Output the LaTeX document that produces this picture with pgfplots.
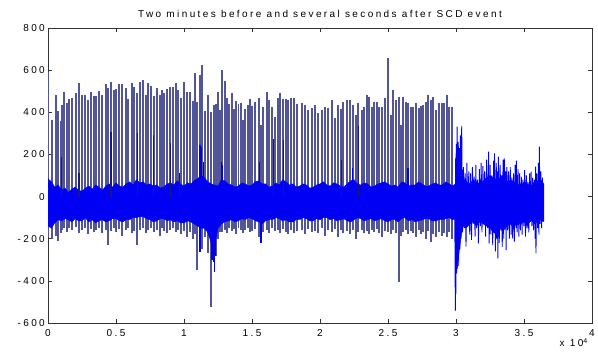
\documentclass[border=0pt]{standalone}
\usepackage{fontspec}
\setmainfont{Liberation Sans}[LetterSpace=24]
\usepackage{pgfplots}
\pgfplotsset{compat=1.18}
\definecolor{ecgblue}{RGB}{0,0,245}
\definecolor{spike}{RGB}{82,86,152}
\definecolor{navy}{RGB}{25,25,125}
\begin{document}
\begin{tikzpicture}[font=\fontsize{10bp}{12bp}\selectfont]
\useasboundingbox (-48bp,-37bp) rectangle (550bp,323bp);
\begin{axis}[
  at={(0,0)}, anchor=south west,
  scale only axis, width=544bp, height=295bp,
  xmin=0, xmax=40000, ymin=-600, ymax=800,
  xtick={0,5000,10000,15000,20000,25000,30000,35000,40000},
  xticklabels={0,0.5,1,1.5,2,2.5,3,3.5,4},
  ytick={-600,-400,-200,0,200,400,600,800},
  yticklabels={-600,-400,-200,0,200,400,600,800},
  scaled x ticks=false, scaled y ticks=false,
  tick align=inside, major tick length=4bp,
  axis line style={draw=black!80, line width=0.7pt},
  every tick/.style={black!80, line width=0.7pt},
  xticklabel style={inner sep=0pt, anchor=north, yshift=-6.5bp},
  yticklabel style={inner sep=0pt, anchor=east, xshift=-3bp},
  title={Two minutes before and several seconds after SCD event},
  title style={at={(0.5,1)}, anchor=base, yshift=4.5bp, inner sep=0pt},
  unbounded coords=jump,
]
% R peaks and S troughs of each beat: peak, trough, break
\addplot[spike, line width=1.9pt] table {
x y
20 590
20 -190
20 nan
319 365
319 -200
319 nan
564 480
564 -185
564 nan
760 405
760 -210
760 nan
932 358
932 -175
932 nan
1030 435
1030 -160
1030 nan
1201 495
1201 -150
1201 nan
1373 445
1373 -170
1373 nan
1569 462
1569 -150
1569 nan
1765 468
1765 -160
1765 nan
2035 490
2035 -145
2035 nan
2255 537
2255 -175
2255 nan
2476 480
2476 -160
2476 nan
2721 480
2721 -150
2721 nan
2917 460
2917 -180
2917 nan
3138 495
3138 -155
3138 nan
3383 475
3383 -170
3383 nan
3554 476
3554 -160
3554 nan
3775 500
3775 -150
3775 nan
3971 480
3971 -175
3971 nan
4241 535
4241 -160
4241 nan
4412 515
4412 -230
4412 nan
4608 545
4608 -165
4608 nan
4829 505
4829 -150
4829 nan
5000 510
5000 -170
5000 nan
5221 533
5221 -155
5221 nan
5442 533
5442 -185
5442 nan
5711 513
5711 -160
5711 nan
5907 462
5907 -150
5907 nan
6152 540
6152 -175
6152 nan
6324 520
6324 -165
6324 nan
6520 492
6520 -230
6520 nan
6765 545
6765 -160
6765 nan
6961 552
6961 -150
6961 nan
7182 483
7182 -175
7182 nan
7378 537
7378 -160
7378 nan
7574 525
7574 -150
7574 nan
7795 475
7795 -170
7795 nan
7991 513
7991 -160
7991 nan
8211 483
8211 -185
8211 nan
8383 505
8383 -150
8383 nan
8554 490
8554 -165
8554 nan
8775 512
8775 -175
8775 nan
8971 520
8971 -160
8971 nan
9192 518
9192 -150
9192 nan
9388 540
9388 -170
9388 nan
9559 505
9559 -160
9559 nan
9804 467
9804 -180
9804 nan
9976 545
9976 -165
9976 nan
10221 495
10221 -190
10221 nan
10442 495
10442 -170
10442 nan
10638 455
10638 -200
10638 nan
10809 585
10809 -180
10809 nan
10980 448
10980 -348
10980 nan
11202 575
11202 -210
11202 nan
11350 625
11350 -250
11350 nan
11569 405
11569 -190
11569 nan
11790 482
11790 -268
11790 nan
11986 400
11986 -523
11986 nan
12182 435
12182 -240
12182 nan
12353 437
12353 -280
12353 nan
12500 497
12500 -200
12500 nan
12640 410
12640 -170
12640 nan
12820 600
12820 -170
12820 nan
12990 550
12990 -160
12990 nan
13160 470
13160 -175
13160 nan
13320 440
13320 -150
13320 nan
13505 490
13505 -165
13505 nan
13680 415
13680 -155
13680 nan
13850 455
13850 -180
13850 nan
14010 440
14010 -150
14010 nan
14180 443
14180 -160
14180 nan
14330 365
14330 -175
14330 nan
14480 415
14480 -160
14480 nan
14706 435
14706 -150
14706 nan
14878 465
14878 -170
14878 nan
15025 430
15025 -165
15025 nan
15221 450
15221 -155
15221 nan
15491 467
15491 -190
15491 nan
15638 340
15638 -222
15638 nan
15834 425
15834 -170
15834 nan
16079 495
16079 -160
16079 nan
16275 460
16275 -175
16275 nan
16471 425
16471 -150
16471 nan
16716 378
16716 -165
16716 nan
16888 468
16888 -160
16888 nan
17059 493
17059 -175
17059 nan
17255 465
17255 -155
17255 nan
17476 462
17476 -170
17476 nan
17672 460
17672 -180
17672 nan
17868 470
17868 -160
17868 nan
18089 470
18089 -175
18089 nan
18334 440
18334 -165
18334 nan
18652 443
18652 -160
18652 nan
18897 435
18897 -180
18897 nan
19142 411
19142 -155
19142 nan
19387 419
19387 -170
19387 nan
19632 435
19632 -165
19632 nan
19877 395
19877 -175
19877 nan
20122 411
20122 -150
20122 nan
20367 427
20367 -185
20367 nan
20612 419
20612 -160
20612 nan
20857 458
20857 -170
20857 nan
21103 371
21103 -155
21103 nan
21348 435
21348 -190
21348 nan
21519 414
21519 -160
21519 nan
21715 450
21715 -175
21715 nan
21960 458
21960 -165
21960 nan
22206 458
22206 -180
22206 nan
22451 435
22451 -160
22451 nan
22647 387
22647 -200
22647 nan
22818 443
22818 -170
22818 nan
23063 411
23063 -160
23063 nan
23259 427
23259 -175
23259 nan
23431 482
23431 -165
23431 nan
23627 474
23627 -180
23627 nan
23799 427
23799 -160
23799 nan
23970 450
23970 -170
23970 nan
24166 450
24166 -155
24166 nan
24362 427
24362 -175
24362 nan
24534 427
24534 -190
24534 nan
24779 466
24779 -165
24779 nan
25000 656
25000 -170
25000 nan
25196 387
25196 -180
25196 nan
25392 506
25392 -160
25392 nan
25588 458
25588 -175
25588 nan
25784 474
25784 -404
25784 nan
25956 340
25956 -185
25956 nan
26127 474
26127 -170
26127 nan
26323 450
26323 -160
26323 nan
26495 443
26495 -180
26495 nan
26691 427
26691 -165
26691 nan
26862 427
26862 -175
26862 nan
27058 443
27058 -190
27058 nan
27254 419
27254 -160
27254 nan
27426 430
27426 -180
27426 nan
27597 435
27597 -170
27597 nan
27793 450
27793 -200
27793 nan
27965 482
27965 -165
27965 nan
28160 458
28160 -215
28160 nan
28332 474
28332 -180
28332 nan
28529 411
28529 -190
28529 nan
28774 443
28774 -170
28774 nan
28945 443
28945 -185
28945 nan
29141 443
29141 -175
29141 nan
29313 482
29313 -190
29313 nan
29509 427
29509 -170
29509 nan
29681 427
29681 -200
29681 nan
};
% dense baseline band: upper edge forward, lower edge back
\addplot[fill=ecgblue, draw=ecgblue, line width=0.4pt] table {
x y
0 85
250 70
500 45
750 55
1000 30
1250 40
1500 20
1750 35
2000 45
2250 30
2500 25
2750 40
3000 50
3250 35
3500 55
3750 45
4000 30
4250 50
4500 60
4750 45
5000 65
5250 50
5500 45
5750 60
6000 70
6250 55
6500 80
6750 65
7000 70
7250 55
7500 60
7750 50
8000 55
8250 40
8500 45
8750 60
9000 65
9250 55
9500 75
9750 60
10000 50
10250 65
10500 60
10750 75
11000 85
11250 100
11500 90
11750 70
12000 60
12250 55
12500 50
12750 80
13000 75
13250 60
13500 55
13750 45
14000 50
14250 65
14500 60
14750 50
15000 55
15250 70
15500 75
15750 60
16000 60
16250 45
16500 50
16750 65
17000 55
17250 80
17500 70
17750 55
18000 60
18250 45
18500 50
18750 60
19000 55
19250 40
19500 45
19750 55
20000 60
20250 70
20500 55
20750 50
21000 65
21250 60
21500 50
21750 45
22000 60
22250 75
22500 80
22750 60
23000 55
23250 65
23500 60
23750 45
24000 50
24250 60
24500 65
24750 70
25000 60
25250 50
25500 55
25750 45
26000 70
26250 65
26500 50
26750 55
27000 55
27250 70
27500 60
27750 50
28000 50
28250 60
28500 65
28750 55
29000 55
29250 70
29500 60
29750 50
29950 60
30000 200
30100 250
30250 220
30400 150
30500 90
30750 70
31000 60
31250 80
31500 70
31750 60
32000 75
32250 90
32500 100
32750 90
33000 80
33250 90
33500 70
33750 60
34000 80
34250 70
34500 60
34750 50
35000 70
35250 60
35500 50
35750 70
36000 60
36250 80
36450 60
36450 -110
36250 -110
36000 -120
35750 -130
35500 -110
35250 -140
35000 -120
34750 -130
34500 -120
34250 -150
34000 -130
33750 -140
33500 -160
33250 -150
33000 -180
32750 -170
32500 -150
32250 -140
32000 -130
31750 -120
31500 -140
31250 -120
31000 -130
30750 -150
30500 -140
30400 -180
30250 -250
30100 -340
30000 -300
29950 -110
29750 -110
29500 -100
29250 -105
29000 -110
28750 -110
28500 -115
28250 -115
28000 -105
27750 -105
27500 -110
27250 -115
27000 -120
26750 -110
26500 -115
26250 -100
26000 -105
25750 -120
25500 -110
25250 -110
25000 -120
24750 -115
24500 -105
24250 -110
24000 -115
23750 -105
23500 -110
23250 -115
23000 -105
22750 -100
22500 -110
22250 -120
22000 -115
21750 -105
21500 -110
21250 -115
21000 -105
20750 -110
20500 -100
20250 -100
20000 -110
19750 -105
19500 -115
19250 -115
19000 -105
18750 -100
18500 -110
18250 -110
18000 -120
17750 -120
17500 -110
17250 -115
17000 -105
16750 -100
16500 -110
16250 -110
16000 -115
15750 -130
15500 -120
15250 -115
15000 -105
14750 -100
14500 -110
14250 -105
14000 -115
13750 -120
13500 -110
13250 -115
13000 -120
12750 -130
12500 -150
12250 -240
12000 -220
11750 -170
11500 -150
11250 -150
11000 -140
10750 -130
10500 -120
10250 -115
10000 -125
9750 -125
9500 -115
9250 -120
9000 -110
8750 -115
8500 -105
8250 -105
8000 -115
7750 -120
7500 -110
7250 -105
7000 -95
6750 -95
6500 -100
6250 -100
6000 -110
5750 -110
5500 -120
5250 -115
5000 -105
4750 -105
4500 -115
4250 -120
4000 -110
3750 -115
3500 -125
3250 -110
3000 -120
2750 -100
2500 -115
2250 -115
2000 -105
1750 -120
1500 -110
1250 -105
1000 -115
750 -110
500 -125
250 -150
0 -140
};
% smaller beats
\addplot[navy, line width=1.4pt] table {
x y
1005 0
1005 190
1005 nan
2280 0
2280 113
2280 nan
4633 0
4633 308
4633 nan
6594 0
6594 300
6594 nan
7746 0
7746 292
7746 nan
9020 0
9020 253
9020 nan
9658 0
9658 113
9658 nan
16569 0
16569 272
16569 nan
17305 0
17305 268
17305 nan
21600 0
21600 174
21600 nan
22820 0
22820 335
22820 nan
};
% baseline excursions
\addplot[ecgblue, line width=1.3pt] table {
x y
11176 0
11176 245
11176 -265
11176 nan
11300 0
11300 237
11300 nan
11422 0
11422 166
11422 nan
12060 0
12060 -300
12060 nan
12150 0
12150 -310
12150 nan
12230 0
12230 -356
12230 nan
12300 0
12300 -280
12300 nan
12770 0
12770 166
12770 nan
12850 0
12850 150
12850 nan
15540 0
15540 166
15540 nan
15660 0
15660 -222
15660 nan
22400 0
22400 134
22400 nan
26470 0
26470 134
26470 nan
};
% signal after the event
\addplot[ecgblue, line width=0.9pt] table {
x y
29900 40
29930 -300
29950 -541
29965 180
29990 -460
30020 250
30050 -364
30080 332
30120 -300
30160 260
30200 -330
30240 230
30280 -250
30320 290
30360 -200
30420 335
30480 -170
30550 140
30610 -150
30680 110
30735 -238
30800 160
30870 -140
30940 120
31010 -180
31080 110
31140 -206
31210 140
31270 -130
31340 95
31400 -190
31460 150
31520 -150
31590 80
31650 -222
31720 130
31790 -140
31850 160
31910 -170
31980 145
32040 -120
32110 120
32180 -190
32250 175
32320 -150
32400 213
32440 -222
32510 150
32570 -180
32640 100
32700 -230
32770 170
32800 -140
32830 205
32900 -260
32960 160
33010 -200
33060 120
33080 -293
33120 190
33180 -220
33250 150
33300 -160
33350 100
33400 -240
33460 175
33510 -200
33550 181
33610 -150
33650 120
33680 -254
33740 140
33800 -160
33860 120
33920 -200
33990 140
34050 -180
34110 90
34170 -200
34230 110
34290 -214
34350 150
34410 -150
34440 170
34500 -170
34560 130
34620 -190
34680 110
34740 -160
34800 95
34860 -180
34920 80
34990 -140
35050 126
35110 -190
35170 100
35230 -150
35290 70
35350 -170
35410 110
35470 -120
35520 118
35580 -140
35640 90
35700 -160
35760 80
35820 -200
35850 142
35880 -270
35940 110
36000 -150
36060 160
36100 -180
36130 237
36180 -130
36240 120
36300 -150
36360 90
36400 -120
36450 60
36450 -119
};
\end{axis}
\node[anchor=base east, inner sep=0pt] at (540bp,-23.7bp) {x 10\textsuperscript{4}};
\end{tikzpicture}
\end{document}
